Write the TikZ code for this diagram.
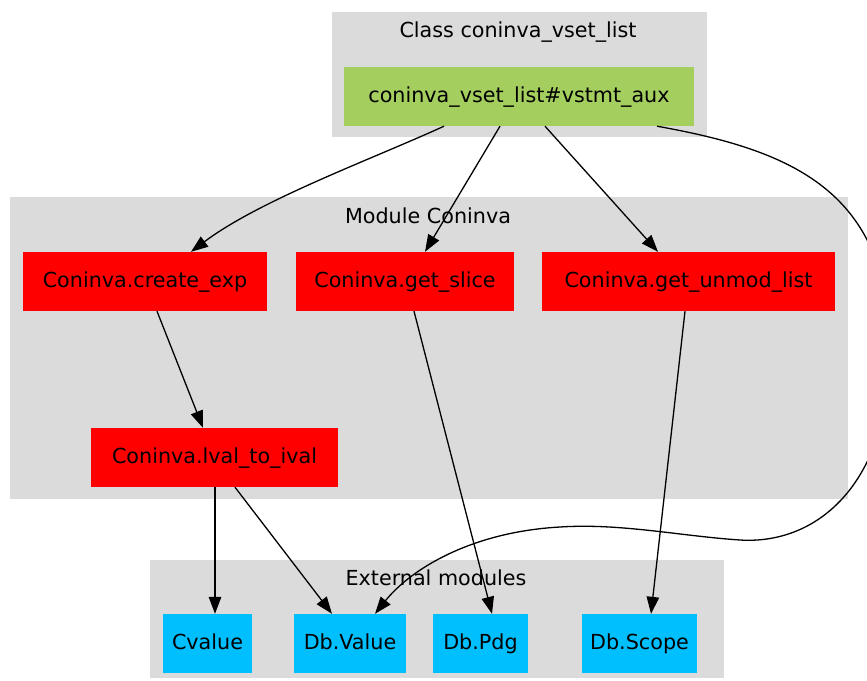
\documentclass[tikz,border=0pt]{standalone}
\usepackage{fontspec}
\setmainfont{DejaVu Sans}
\usetikzlibrary{arrows.meta,calc}
\definecolor{clustergray}{HTML}{DBDBDB}
\definecolor{nodegreen}{HTML}{A4CE5E}
\definecolor{nodered}{HTML}{FF0000}
\definecolor{nodeblue}{HTML}{00BFFF}
\tikzset{
  cluster/.style={fill=clustergray, draw=none, inner sep=0pt, anchor=north west},
  title/.style={font=\fontsize{20.7}{24}\selectfont, inner sep=0pt, text height=15pt, text depth=4pt},
  box/.style={draw=none, inner sep=0pt, minimum height=59pt, text height=15pt, text depth=4pt, font=\fontsize{20.7}{24}\selectfont},
  gbox/.style={box, fill=nodegreen},
  rbox/.style={box, fill=nodered},
  bbox/.style={box, fill=nodeblue},
  edge/.style={draw=black, line width=1.3pt, -{Triangle[length=17pt,width=12.5pt]}},
}
\begin{document}
\begin{tikzpicture}[x=1pt,y=-1pt]
\useasboundingbox (0,0) rectangle (867,680);
\clip (0,0) rectangle (867,680);
% clusters
\node[cluster, minimum width=375pt, minimum height=125pt] (cclass) at (332,12) {};
\node[cluster, minimum width=838pt, minimum height=302pt] (cmod) at (10,197) {};
\node[cluster, minimum width=574pt, minimum height=118pt] (cext) at (150,560) {};
\node[title] (tclass) at (518,32) {Class coninva\_vset\_list};
\node[title] (tmod) at (428,218) {Module Coninva};
\node[title] (text) at (436,580) {External modules};
% nodes
\node[gbox, minimum width=350pt] (green) at (519,96.5) {coninva\_vset\_list\#vstmt\_aux};
\node[rbox, minimum width=244pt] (create) at (145,281.5) {Coninva.create\_exp};
\node[rbox, minimum width=218pt] (slice) at (405,281.5) {Coninva.get\_slice};
\node[rbox, minimum width=293pt] (unmod) at (688.5,281.5) {Coninva.get\_unmod\_list};
\node[rbox, minimum width=247pt] (lval) at (214.5,457.5) {Coninva.lval\_to\_ival};
\node[bbox, minimum width=89pt] (cvalue) at (207.5,643.5) {Cvalue};
\node[bbox, minimum width=112pt] (dbvalue) at (350,643.5) {Db.Value};
\node[bbox, minimum width=95pt] (dbpdg) at (480.5,643.5) {Db.Pdg};
\node[bbox, minimum width=115pt] (dbscope) at (639.5,643.5) {Db.Scope};
% edges
\draw[edge] ($(green.south)+(-75,0)$) .. controls (370,160) and (260,200) .. ($(create.north)+(46,0)$);
\draw[edge] ($(green.south)+(-19,0)$) -- ($(slice.north)+(20,0)$);
\draw[edge] ($(green.south)+(26,0)$) -- ($(unmod.north)+(-30.5,0)$);
\draw[edge] ($(green.south)+(138,0)$) .. controls (790,150) and (890,190) .. (890,350)
  .. controls (890,480) and (820,545) .. (740,540)
  .. controls (680,536) and (620,523) .. (560,527)
  .. controls (470,532) and (410,570) .. ($(dbvalue.north)+(25,0)$);
\draw[edge] ($(create.south)+(12,0)$) -- ($(lval.north)+(-11.5,0)$);
\draw[edge] ($(lval.south)+(0.5,0)$) -- ($(cvalue.north)+(7.5,0)$);
\draw[edge] ($(lval.south)+(20.5,0)$) -- ($(dbvalue.north)+(-18,0)$);
\draw[edge] ($(slice.south)+(9,0)$) -- ($(dbpdg.north)+(11.5,0)$);
\draw[edge] ($(unmod.south)+(-3.5,0)$) -- ($(dbscope.north)+(11.5,0)$);
\end{tikzpicture}
\end{document}
